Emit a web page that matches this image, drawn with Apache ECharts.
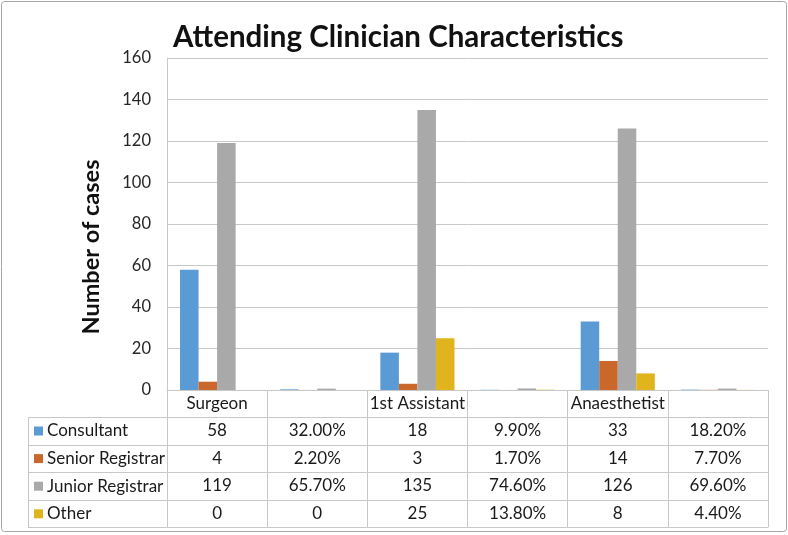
<!DOCTYPE html>
<html>
<head>
<meta charset="utf-8">
<script src="https://cdn.jsdelivr.net/npm/echarts@6/dist/echarts.min.js"></script>
<style>
html,body{margin:0;padding:0;background:#fff;}
#chart{width:788px;height:535px;}
</style>
</head>
<body>
<div id="chart"></div>
<script>
// ---- data ----
const categories = ['Surgeon', '', '1st Assistant', '', 'Anaesthetist', ''];
const seriesNames = ['Consultant', 'Senior Registrar', 'Junior Registrar', 'Other'];
const consultant = [58, 0.32, 18, 0.099, 33, 0.182];
const seniorRegistrar = [4, 0.022, 3, 0.017, 14, 0.077];
const juniorRegistrar = [119, 0.657, 135, 0.746, 126, 0.696];
const other = [0, 0, 25, 0.138, 8, 0.044];
const yTicks = [0, 20, 40, 60, 80, 100, 120, 140, 160];

// ---- layout ----
const colors = ['#5b9bd5', '#c9682a', '#a9a9a9', '#e0b41c'];
const FONT = 'Lato, "Open Sans", sans-serif';
const gridLeft = 167, gridRight = 768, gridTop = 58, gridBottom = 390;
const tableLeft = 28;
const rowH = 27.6;
const headerH = 27;
const seriesData = [consultant, seniorRegistrar, juniorRegistrar, other];

function fmt(v, i) {
  if (i % 2 === 0) return String(v);
  if (v === 0) return '0';
  return (v * 100).toFixed(2) + '%';
}

const lineColor = '#c8c8c8';
const xAxes = [{
  type: 'category', data: categories, position: 'bottom', gridIndex: 0,
  axisLine: {show: true, lineStyle: {color: lineColor, width: 1}},
  axisTick: {show: true, length: headerH + rowH * 4, lineStyle: {color: lineColor}},
  axisLabel: {show: true, interval: 0, margin: 5, fontSize: 17, color: '#1a1a1a', fontFamily: FONT},
  splitLine: {show: false}
}];
seriesData.forEach((arr, r) => {
  xAxes.push({
    type: 'category', data: arr.map(fmt), position: 'bottom', gridIndex: 0,
    offset: headerH + rowH * r,
    axisLine: {show: false}, axisTick: {show: false},
    axisLabel: {show: true, interval: 0, margin: 5, fontSize: 17, color: '#1a1a1a', fontFamily: FONT}
  });
});

const graphics = [
  {type: 'rect', shape: {x: 1.5, y: 1.5, width: 785, height: 530, r: 3}, style: {fill: 'none', stroke: '#a6a6a6', lineWidth: 1}, silent: true}
];
for (let r = 0; r <= 4; r++) {
  const y = Math.round(gridBottom + headerH + rowH * r) + 0.5;
  graphics.push({type: 'line', shape: {x1: tableLeft, y1: y, x2: gridRight, y2: y}, style: {stroke: lineColor, lineWidth: 1}, silent: true});
}
graphics.push({type: 'line', shape: {x1: tableLeft + 0.5, y1: Math.round(gridBottom + headerH) + 0.5, x2: tableLeft + 0.5, y2: Math.round(gridBottom + headerH + rowH * 4) + 0.5}, style: {stroke: lineColor, lineWidth: 1}, silent: true});

const chart = echarts.init(document.getElementById('chart'), null, {renderer: 'canvas'});
chart.setOption({
  animation: false,
  backgroundColor: '#fff',
  color: colors,
  title: {
    text: 'Attending Clinician Characteristics', left: 168, top: 17,
    textStyle: {fontSize: 29.5, fontWeight: 'bold', color: '#111', fontFamily: FONT}
  },
  legend: {
    orient: 'vertical', left: 34, top: gridBottom + headerH + 5, padding: 0,
    itemWidth: 9, itemHeight: 9, itemGap: rowH - 18, icon: 'rect',
    textStyle: {fontSize: 17, lineHeight: 18, color: '#1a1a1a', fontFamily: FONT, padding: [0, 0, 0, -1]},
    data: seriesNames, selectedMode: false
  },
  grid: {left: gridLeft, right: 788 - gridRight, top: gridTop, bottom: 535 - gridBottom, containLabel: false},
  xAxis: xAxes,
  yAxis: {
    type: 'value', min: 0, max: 160, interval: 20,
    name: 'Number of cases', nameLocation: 'middle', nameGap: 64, nameRotate: 90,
    nameTextStyle: {fontSize: 23.5, fontWeight: 'bold', color: '#111', fontFamily: FONT, padding: [0, 46, 0, 0]},
    axisLine: {show: true, lineStyle: {color: lineColor}},
    axisTick: {show: false},
    axisLabel: {fontSize: 16.5, color: '#262626', margin: 16, fontFamily: FONT,
      formatter: v => yTicks.includes(v) ? String(v) : ''},
    splitLine: {lineStyle: {color: lineColor}}
  },
  series: seriesNames.map((n, i) => ({
    name: n, type: 'bar', data: seriesData[i], xAxisIndex: 0,
    barGap: '0%', barCategoryGap: '26%',
    itemStyle: {color: colors[i]}
  })),
  graphic: graphics
});
</script>
</body>
</html>
